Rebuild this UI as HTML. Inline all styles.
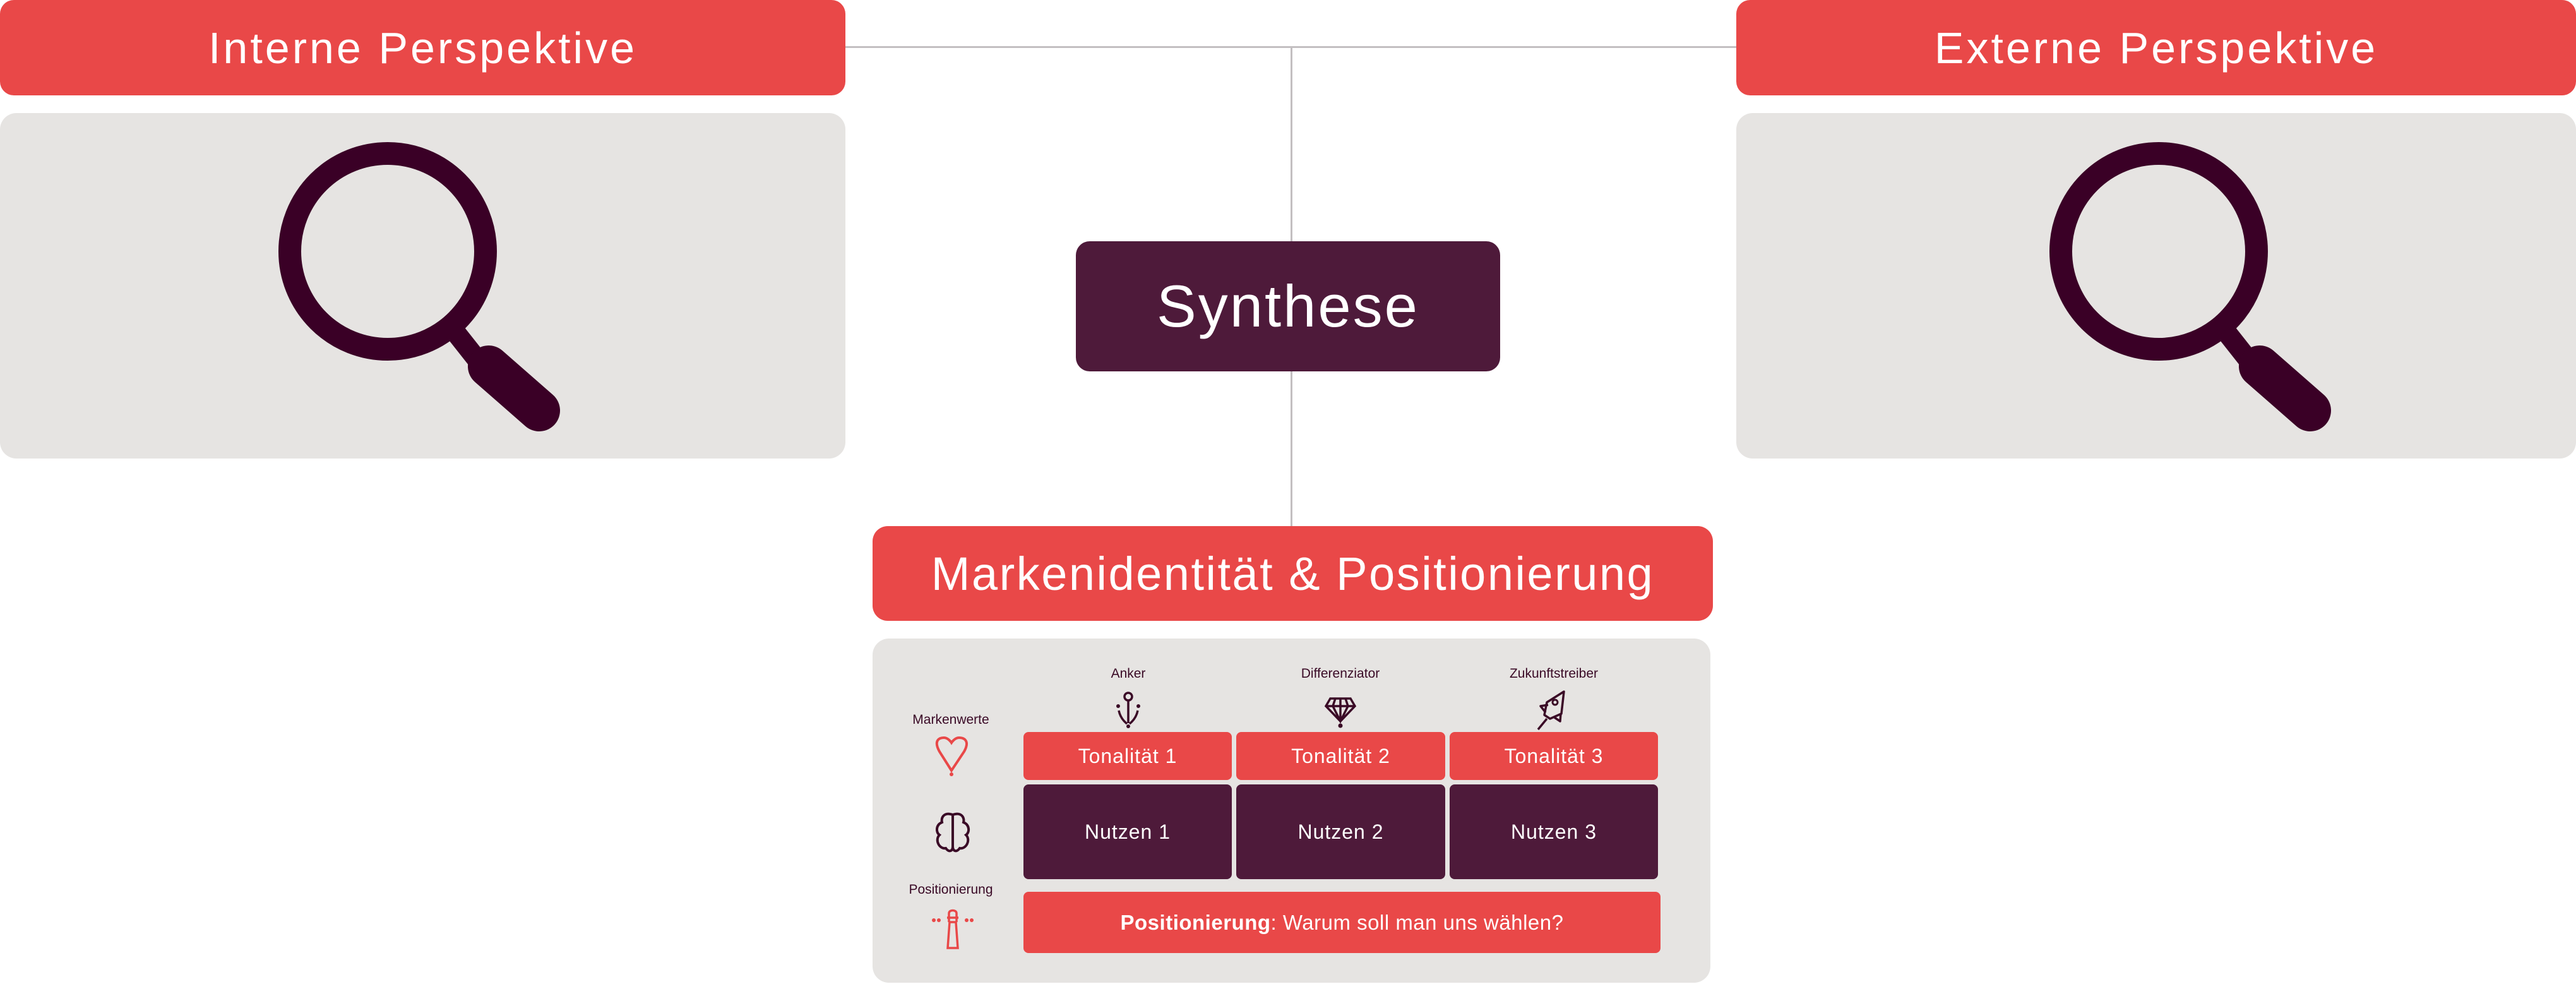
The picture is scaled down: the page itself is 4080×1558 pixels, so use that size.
<!DOCTYPE html>
<html><head><meta charset="utf-8"><style>
html,body{margin:0;padding:0;}
body{width:4080px;height:1558px;position:relative;background:#fff;font-family:"Liberation Sans",sans-serif;overflow:hidden;}
.a{position:absolute;box-sizing:border-box;}
.red{background:#e94848;color:#fff;display:flex;align-items:center;justify-content:center;}
.dark{background:#4e1a3a;color:#fff;display:flex;align-items:center;justify-content:center;}
.grey{background:#e6e4e2;}
.lbl{color:#3a0a26;font-size:21px;text-align:center;width:240px;}
.t{font-size:32px;letter-spacing:1px;}
</style></head><body>
<div class="a" style="left:1338px;top:73px;width:1412px;height:3px;background:#c3bfc1"></div>
<div class="a" style="left:2044px;top:74px;width:3px;height:760px;background:#c3bfc1"></div>

<div class="a red" style="left:0;top:0;width:1339px;height:151px;border-radius:22px;font-size:70px;letter-spacing:4px;">Interne Perspektive</div>
<div class="a grey" style="left:0;top:179px;width:1339px;height:547px;border-radius:26px;"></div>
<div class="a red" style="left:2750px;top:0;width:1330px;height:151px;border-radius:22px;font-size:70px;letter-spacing:4px;">Externe Perspektive</div>
<div class="a grey" style="left:2750px;top:179px;width:1330px;height:547px;border-radius:26px;"></div>

<svg class="a" style="left:0;top:0" width="4080" height="760">
 <g fill="none" stroke="#3a0026" stroke-linecap="round">
  <g transform="translate(614,398)">
   <circle r="155" stroke-width="36"/>
   <line x1="105" y1="125" x2="150" y2="182" stroke-width="32" stroke-linecap="butt"/>
   <line x1="160" y1="182" x2="240" y2="252" stroke-width="66"/>
  </g>
  <g transform="translate(3419,398)">
   <circle r="155" stroke-width="36"/>
   <line x1="105" y1="125" x2="150" y2="182" stroke-width="32" stroke-linecap="butt"/>
   <line x1="160" y1="182" x2="240" y2="252" stroke-width="66"/>
  </g>
 </g>
</svg>

<div class="a dark" style="left:1704px;top:382px;width:672px;height:206px;border-radius:22px;font-size:94px;letter-spacing:3px;">Synthese</div>

<div class="a red" style="left:1382px;top:833px;width:1331px;height:150px;border-radius:24px;font-size:74px;letter-spacing:2.5px;">Markenidentität &amp; Positionierung</div>
<div class="a grey" style="left:1382px;top:1011px;width:1327px;height:545px;border-radius:26px;"></div>

<div class="a lbl" style="left:1667px;top:1055px;">Anker</div>
<div class="a lbl" style="left:2003px;top:1055px;">Differenziator</div>
<div class="a lbl" style="left:2341px;top:1055px;">Zukunftstreiber</div>
<div class="a lbl" style="left:1386px;top:1128px;">Markenwerte</div>
<div class="a lbl" style="left:1386px;top:1397px;">Positionierung</div>

<div class="a red t" style="left:1621px;top:1159px;width:330px;height:76px;border-radius:8px;">Tonalität 1</div>
<div class="a red t" style="left:1958px;top:1159px;width:331px;height:76px;border-radius:8px;">Tonalität 2</div>
<div class="a red t" style="left:2296px;top:1159px;width:330px;height:76px;border-radius:8px;">Tonalität 3</div>
<div class="a dark t" style="left:1621px;top:1242px;width:330px;height:150px;border-radius:8px;">Nutzen 1</div>
<div class="a dark t" style="left:1958px;top:1242px;width:331px;height:150px;border-radius:8px;">Nutzen 2</div>
<div class="a dark t" style="left:2296px;top:1242px;width:330px;height:150px;border-radius:8px;">Nutzen 3</div>
<div class="a red" style="left:1621px;top:1412px;width:1009px;height:97px;border-radius:8px;font-size:33px;letter-spacing:0.5px;"><b>Positionierung</b>: Warum soll man uns wählen?</div>

<svg class="a" style="left:0;top:0" width="4080" height="1558">
 <path d="M1507 1220 L1488 1190 C1478 1172 1488 1168 1495 1168 C1502 1168 1507 1176 1507 1176 C1507 1176 1512 1168 1519 1168 C1526 1168 1537 1172 1527 1190 Z" fill="none" stroke="#e94848" stroke-width="4"/>
 <circle cx="1507" cy="1226" r="3" fill="#e94848"/>
 <g fill="none" stroke="#3a0a26" stroke-width="4">
  <path d="M1509 1290 C1495 1285 1490 1295 1492 1302 C1482 1306 1482 1318 1488 1322 C1480 1330 1488 1345 1498 1343 C1503 1350 1509 1348 1509 1340 Z"/>
  <path d="M1509 1290 C1523 1285 1528 1295 1526 1302 C1536 1306 1536 1318 1530 1322 C1538 1330 1530 1345 1520 1343 C1515 1350 1509 1348 1509 1340 Z"/>
 </g>
 <g fill="none" stroke="#e94848" stroke-width="3.5">
  <path d="M1501 1501 L1504 1460 L1514 1460 L1517 1501 Z"/>
  <path d="M1503 1460 L1503 1446 C1503 1440 1515 1440 1515 1446 L1515 1460"/>
  <line x1="1500" y1="1453" x2="1518" y2="1453"/>
 </g>
 <g fill="#e94848"><circle cx="1479" cy="1457" r="3"/><circle cx="1487" cy="1457" r="3"/><circle cx="1531" cy="1457" r="3"/><circle cx="1539" cy="1457" r="3"/></g>
 <g fill="none" stroke="#3a0a26" stroke-width="3.5">
  <circle cx="1787" cy="1103" r="6"/>
  <line x1="1787" y1="1109" x2="1787" y2="1145"/>
  <path d="M1772 1125 C1774 1135 1780 1142 1785 1146"/>
  <path d="M1802 1125 C1800 1135 1794 1142 1789 1146"/>
 </g>
 <g fill="#3a0a26"><circle cx="1771" cy="1118" r="3"/><circle cx="1803" cy="1118" r="3"/><circle cx="1787" cy="1150" r="3"/></g>
 <g fill="none" stroke="#3a0a26" stroke-width="3.5">
  <path d="M2107 1106 L2139 1106 L2146 1118 L2123 1142 L2100 1118 Z"/>
  <line x1="2100" y1="1118" x2="2146" y2="1118"/>
  <path d="M2115 1106 L2111 1118 L2123 1142 L2135 1118 L2131 1106"/>
  <line x1="2123" y1="1106" x2="2123" y2="1142"/>
 </g>
 <circle cx="2123" cy="1149" r="3.5" fill="#3a0a26"/>
 <g fill="none" stroke="#3a0a26" stroke-width="3.5" stroke-linejoin="round">
  <path d="M2477 1095 L2450 1112 L2446 1132 L2455 1138 L2473 1130 Z"/>
  <path d="M2452 1116 L2440 1118 L2448 1128"/>
  <path d="M2472 1130 L2471 1142 L2462 1136"/>
  <line x1="2450" y1="1138" x2="2436" y2="1155"/>
 </g>
 <circle cx="2463" cy="1112" r="4" fill="none" stroke="#3a0a26" stroke-width="3"/>
</svg>
</body></html>
